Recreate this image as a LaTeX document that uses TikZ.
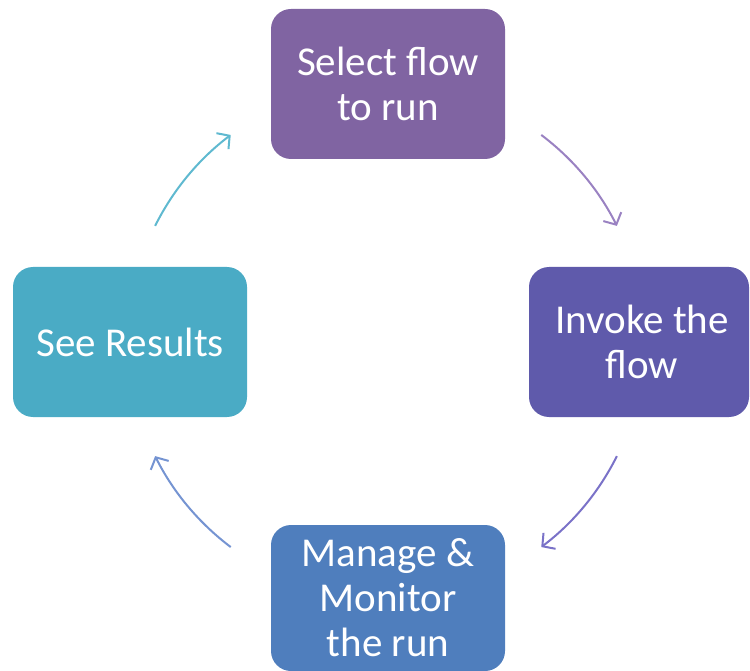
\documentclass[tikz,border=0pt]{standalone}
\usepackage{fontspec}
\setmainfont{Carlito}
\usetikzlibrary{arrows.meta,calc}
\definecolor{cTop}{HTML}{8064A2}
\definecolor{cRight}{HTML}{5F5AAB}
\definecolor{cBottom}{HTML}{4F7EBD}
\definecolor{cLeft}{HTML}{4AABC5}
\definecolor{aTop}{HTML}{9A82C2}
\definecolor{aRight}{HTML}{7A72C8}
\definecolor{aBottom}{HTML}{7594D2}
\definecolor{aLeft}{HTML}{5FB9D0}
\tikzset{
  stepbox/.style={rounded corners=20pt, text=white, align=center,
    font=\fontsize{41}{45}\selectfont, inner sep=0pt},
  arr/.style={line width=2pt, -{Straight Barb[length=9pt,width=20pt,line width=2pt]}},
}
\begin{document}
\begin{tikzpicture}[x=1pt,y=-1pt]
\useasboundingbox (0,0) rectangle (750,671);
\node[stepbox, fill=cTop, minimum width=234pt, minimum height=150pt] (top) at (388,84) {Select flow\\to run};
\node[stepbox, fill=cRight, minimum width=220pt, minimum height=150pt] (right) at (639,342) {\hspace*{6pt}Invoke the\\\hspace*{6pt}flow};
\node[stepbox, fill=cBottom, minimum width=234pt, minimum height=146pt] (bottom) at (388,598) {Manage \&\\Monitor\\the run};
\node[stepbox, fill=cLeft, minimum width=234pt, minimum height=150pt] (left) at (130,342) {See Results};
\coordinate (c) at (386,341);
\draw[arr, aTop] ($(c)+({258*cos(53)},{-258*sin(53)})$) arc[start angle=-53, end angle=-26.5, radius=258];
\draw[arr, aRight] ($(c)+({258*cos(26.5)},{258*sin(26.5)})$) arc[start angle=26.5, end angle=53, radius=258];
\draw[arr, aBottom] ($(c)+({-258*cos(53)},{258*sin(53)})$) arc[start angle=127, end angle=153.5, radius=258];
\draw[arr, aLeft] ($(c)+({-258*cos(26.5)},{-258*sin(26.5)})$) arc[start angle=206.5, end angle=233, radius=258];
\end{tikzpicture}
\end{document}
